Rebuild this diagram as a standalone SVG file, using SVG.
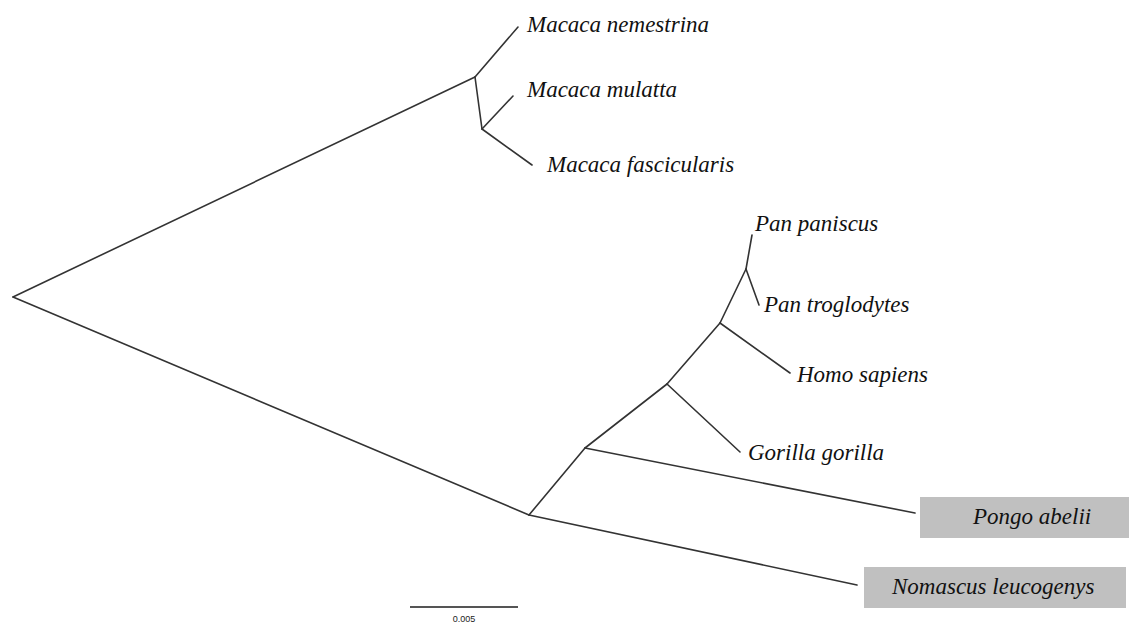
<svg xmlns="http://www.w3.org/2000/svg" width="1131" height="626" viewBox="0 0 1131 626">
<style>
.e{stroke:#333;stroke-width:1.6;fill:none;stroke-linecap:round}
.t{font-family:"Liberation Serif","Times New Roman",serif;font-style:italic;font-size:23px;fill:#111}
.box{fill:#c0c0c0}
.s{font-family:"Liberation Sans",Arial,sans-serif;font-size:9px;fill:#222}
</style>
<rect width="1131" height="626" fill="#fff"/>
<g id="connectors">
<path class="e" d="M13,297 L475,77"/>
<path class="e" d="M13,297 L529,515"/>
<path class="e" d="M475,77 L518,27"/>
<path class="e" d="M475,77 L482,129"/>
<path class="e" d="M482,129 L513,96"/>
<path class="e" d="M482,129 L532,165"/>
<path class="e" d="M529,515 L585,448"/>
<path class="e" d="M529,515 L857,585"/>
<path class="e" d="M585,448 L915,513"/>
<path class="e" d="M585,448 L667,384"/>
<path class="e" d="M667,384 L740,452"/>
<path class="e" d="M667,384 L720,323"/>
<path class="e" d="M720,323 L790,373"/>
<path class="e" d="M720,323 L746,269"/>
<path class="e" d="M746,269 L752,235"/>
<path class="e" d="M746,269 L759,305"/>
</g>
<g id="macaca-nemestrina"><text class="t" x="527" y="32">Macaca nemestrina</text></g>
<g id="macaca-mulatta"><text class="t" x="527" y="97">Macaca mulatta</text></g>
<g id="macaca-fascicularis"><text class="t" x="547" y="172">Macaca fascicularis</text></g>
<g id="pan-paniscus"><text class="t" x="755" y="231">Pan paniscus</text></g>
<g id="pan-troglodytes"><text class="t" x="764" y="312">Pan troglodytes</text></g>
<g id="homo-sapiens"><text class="t" x="797" y="382">Homo sapiens</text></g>
<g id="gorilla-gorilla"><text class="t" x="748" y="460">Gorilla gorilla</text></g>
<g id="pongo-abelii"><rect class="box" x="920" y="497" width="209" height="41"/><text class="t" x="973" y="524">Pongo abelii</text></g>
<g id="nomascus-leucogenys"><rect class="box" x="864" y="567" width="262" height="41"/><text class="t" x="892" y="594">Nomascus leucogenys</text></g>
<g id="scale-bar"><path d="M410,607 L518,607" stroke="#555" stroke-width="2"/><text class="s" x="464" y="622" text-anchor="middle">0.005</text></g>
</svg>
